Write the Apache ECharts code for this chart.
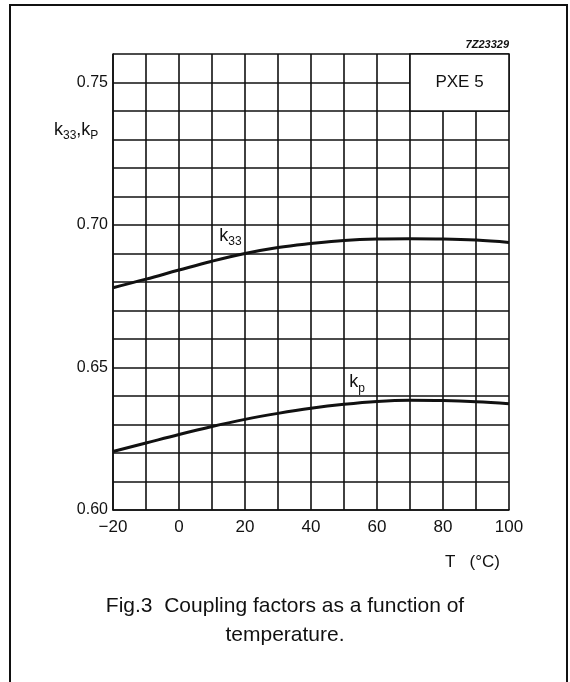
<!DOCTYPE html>
<html>
<head>
<meta charset="utf-8">
<title>Coupling factors</title>
<script src="https://cdn.jsdelivr.net/npm/echarts@6/dist/echarts.min.js"></script>
<style>
  html, body { margin: 0; padding: 0; background: #fff; }
  #chart { width: 570px; height: 682px; }
</style>
</head>
<body>
<div id="chart"></div>
<script type="text/javascript">
// temperatures (°C) and the two curves
var temps = [-20, -10, 0, 10, 20, 30, 40, 50, 60, 70, 80, 90, 100];
var k33 = [0.678, 0.681, 0.6842, 0.6873, 0.6900, 0.6921, 0.6935, 0.6946, 0.6951, 0.6952, 0.6951, 0.6947, 0.6939];
var kp = [0.6205, 0.6235, 0.6265, 0.6293, 0.6318, 0.6339, 0.6357, 0.6371, 0.6381, 0.6385, 0.6384, 0.6380, 0.6373];
var xLabels = [-20, 0, 20, 40, 60, 80, 100];
var yLabels = ['0.60', '0.65', '0.70', '0.75'];

var font = 'Liberation Sans';
var ink = '#111';

function pairs(ys) {
    return temps.map(function (t, i) { return [t, ys[i]]; });
}

var subRich = {
    k: { fontFamily: font, fontSize: 18, fontWeight: 'normal', color: ink },
    s: { fontFamily: font, fontSize: 12, fontWeight: 'normal', color: ink, padding: [12, 0, 0, 0] }
};

var chart = echarts.init(document.getElementById('chart'));

chart.setOption({
    animation: false,
    backgroundColor: '#fff',
    grid: { left: 113, right: 61, top: 54, bottom: 172 },
    title: [
        {
            text: '{k|k}{s|33}{k|,k}{s|P}',
            left: 54, top: 118, padding: 0,
            textStyle: { rich: subRich }
        },
        {
            text: 'T   (°C)',
            left: 445, top: 554, padding: 0,
            textStyle: { fontFamily: font, fontSize: 17, fontWeight: 'normal', color: ink }
        },
        {
            text: '7Z23329',
            right: 61, top: 39, padding: 0,
            textStyle: { fontFamily: font, fontSize: 11, fontStyle: 'italic', fontWeight: 'bold', color: ink }
        },
        {
            text: 'Fig.3  Coupling factors as a function of\ntemperature.',
            left: 285, top: 592, padding: 0, textAlign: 'center',
            textStyle: { fontFamily: font, fontSize: 21, fontWeight: 'normal', color: ink, lineHeight: 29, align: 'center' }
        }
    ],
    graphic: [{
        type: 'rect',
        shape: { x: 10, y: 5, width: 557, height: 720 },
        style: { fill: 'none', stroke: ink, lineWidth: 2 },
        silent: true
    }],
    xAxis: {
        type: 'value', min: -20, max: 100, interval: 10,
        axisLine: { show: true, onZero: false, lineStyle: { color: ink, width: 1.6 } },
        axisTick: { show: false },
        splitLine: { show: true, lineStyle: { color: ink, width: 1.6 } },
        axisLabel: {
            margin: 9, fontFamily: font, fontSize: 17, color: ink,
            formatter: function (v) {
                if (xLabels.indexOf(v) < 0) return '';
                return v < 0 ? '\u2212' + (-v) : String(v);
            }
        }
    },
    yAxis: {
        type: 'value', min: 0.60, max: 0.76, interval: 0.01,
        axisLine: { show: true, onZero: false, lineStyle: { color: ink, width: 1.6 } },
        axisTick: { show: false },
        splitLine: { show: true, lineStyle: { color: ink, width: 1.6 } },
        axisLabel: {
            margin: 5, fontFamily: font, fontSize: 16, color: ink,
            formatter: function (v) {
                var s = v.toFixed(2);
                return yLabels.indexOf(s) >= 0 ? s : '';
            }
        }
    },
    series: [
        {
            name: 'k33', type: 'line', data: pairs(k33),
            smooth: 0.4, symbol: 'none',
            lineStyle: { color: ink, width: 3 },
            markPoint: {
                symbol: 'circle', symbolSize: 0,
                data: [{ coord: [12.2, 0.6962] }],
                label: { show: true, position: 'right', distance: 0, formatter: '{k|k}{s|33}', rich: subRich }
            },
            markArea: {
                silent: true,
                itemStyle: { color: '#fff', borderColor: ink, borderWidth: 1.6 },
                label: { show: true, position: 'inside', fontFamily: font, fontSize: 17, color: ink },
                data: [[{ coord: [70, 0.74], name: 'PXE 5' }, { coord: [100, 0.76] }]]
            }
        },
        {
            name: 'kp', type: 'line', data: pairs(kp),
            smooth: 0.4, symbol: 'none',
            lineStyle: { color: ink, width: 3 },
            markPoint: {
                symbol: 'circle', symbolSize: 0,
                data: [{ coord: [51.6, 0.6448] }],
                label: { show: true, position: 'right', distance: 0, formatter: '{k|k}{s|p}', rich: subRich }
            }
        }
    ]
});
</script>
</body>
</html>
